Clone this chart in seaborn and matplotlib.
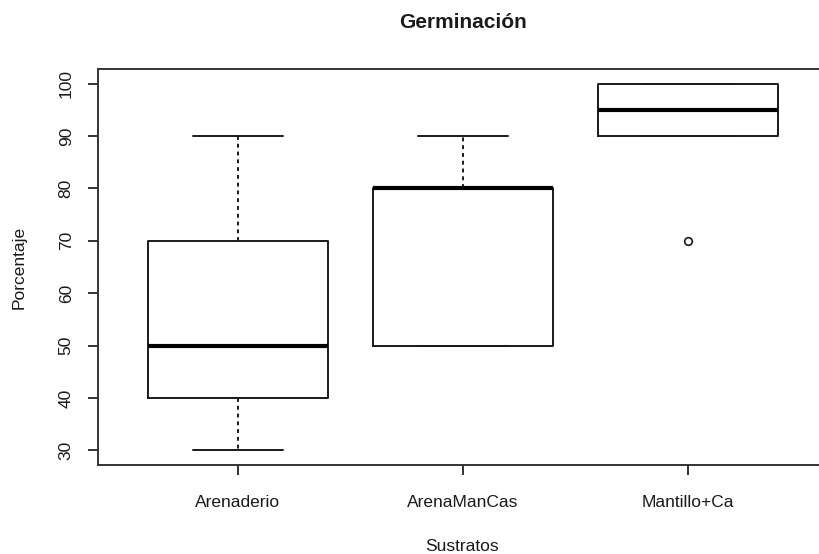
import matplotlib
matplotlib.use('Agg')
import matplotlib.pyplot as plt
import seaborn as sns
import pandas as pd

# Valores (5 repeticiones por sustrato)
sustratos = ['Arenaderio', 'ArenaManCas', 'Mantillo+Ca']
arenaderio = [30, 40, 50, 70, 90]
arena_man_cas = [50, 50, 80, 80, 90]
mantillo_ca = [70, 90, 95, 100, 100]
y_ticks = [30, 40, 50, 60, 70, 80, 90, 100]

df = pd.DataFrame({
    'Sustratos': [sustratos[0]] * len(arenaderio)
    + [sustratos[1]] * len(arena_man_cas)
    + [sustratos[2]] * len(mantillo_ca),
    'Porcentaje': arenaderio + arena_man_cas + mantillo_ca,
})

sns.set_style('ticks')
plt.rcParams['font.family'] = ['Liberation Sans', 'DejaVu Sans']

W, H = 819, 554
fig = plt.figure(figsize=(W / 100, H / 100), dpi=100)
# la caja del eje se sale un poco por la derecha, como en el original
left, right, top, bottom = 98, 827, 69, 465
ax = fig.add_axes([left / W, 1 - bottom / H, (right - left) / W, (bottom - top) / H])

ink = '#1a1a1a'
sns.boxplot(data=df, x='Sustratos', y='Porcentaje', order=sustratos,
            fill=False, color=ink, width=0.8, linewidth=1.4,
            medianprops={'linewidth': 3, 'color': 'black'},
            whiskerprops={'linestyle': (0, (2.0, 2.0)), 'linewidth': 1.4},
            flierprops={'marker': 'o', 'markersize': 5.5,
                        'markerfacecolor': 'white', 'markeredgecolor': ink,
                        'markeredgewidth': 1.2},
            ax=ax)

ax.set_xlim(-0.62, 2.62)
ax.set_ylim(27.2, 102.8)
ax.set_yticks(y_ticks)
ax.set_yticklabels([str(v) for v in y_ticks])

for s in ax.spines.values():
    s.set_visible(True)
    s.set_linewidth(1.4)
    s.set_color('#333333')

ax.tick_params(axis='both', direction='out', length=7, width=1.4,
               color='#333333', labelcolor=ink, labelsize=12.5,
               bottom=True, left=True, top=False, right=False)
ax.tick_params(axis='x', pad=14.5)
ax.tick_params(axis='y', pad=10.5, labelrotation=90)
for lab in ax.get_yticklabels():
    lab.set_va('center')

ax.set_xlabel('Sustratos', fontsize=12.5, color=ink, labelpad=21)
ax.set_ylabel('Porcentaje', fontsize=12.5, color=ink, labelpad=23)

fig.text((left + right) / 2 / W, 1 - 22 / H, 'Germinación',
         ha='center', va='center', fontsize=15, fontweight='bold', color=ink)

fig.savefig('out.png', dpi=100)
